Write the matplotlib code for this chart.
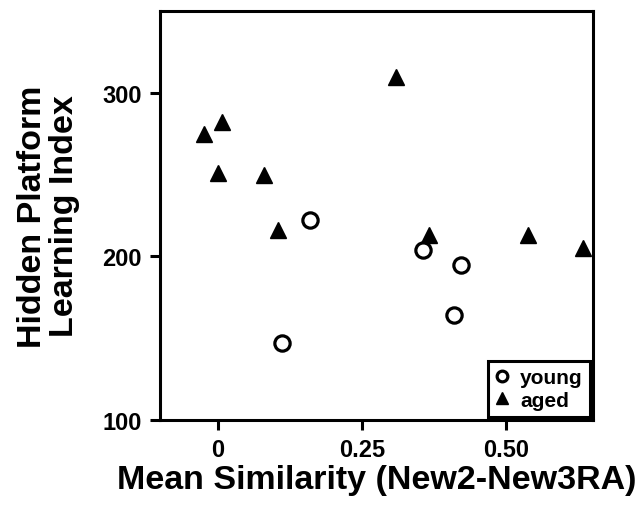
import matplotlib
matplotlib.use("Agg")
import matplotlib.pyplot as plt

plt.rcParams["font.family"] = ["Liberation Sans", "DejaVu Sans"]
plt.rcParams["font.weight"] = "bold"

# young animals
young_x = [0.160, 0.111, 0.356, 0.422, 0.409]
young_y = [222, 147, 204, 195, 164]

# aged animals
aged_x = [-0.023, 0.008, 0.000, 0.081, 0.105, 0.308, 0.366, 0.538, 0.632]
aged_y = [275, 282, 251, 250, 216, 310, 213, 213, 205]

xticks = [0, 0.25, 0.50]
xtick_labels = ["0", "0.25", "0.50"]
yticks = [100, 200, 300]

fig = plt.figure(figsize=(6.41, 5.06), dpi=100)
ax = fig.add_axes([0.2496, 0.168, 0.925 - 0.2496, 0.976 - 0.168])

ax.plot(young_x, young_y, linestyle="none", marker="o", markersize=11,
        markerfacecolor="white", markeredgecolor="black", markeredgewidth=2.3,
        label="young")
ax.plot(aged_x, aged_y, linestyle="none", marker="^", markersize=12,
        color="black", label="aged")

ax.set_xlim(-0.1, 0.65)
ax.set_ylim(100, 350)
ax.set_xticks(xticks)
ax.set_xticklabels(xtick_labels)
ax.set_yticks(yticks)

for s in ax.spines.values():
    s.set_linewidth(2.2)

ax.tick_params(direction="out", length=7, width=2.2, labelsize=17, pad=6)

ax.set_xlabel("Mean Similarity (New2-New3RA)", fontsize=24.5, fontweight="bold",
              labelpad=2)
ax.set_ylabel("Hidden Platform\nLearning Index", fontsize=24.5, fontweight="bold",
              labelpad=16, linespacing=1.05)

leg = ax.legend(loc="lower right", fontsize=15, numpoints=1, markerscale=0.7,
                handlelength=0.7, handletextpad=0.5, borderaxespad=0.15,
                labelspacing=0.15, borderpad=0.35, fancybox=False, framealpha=1)
leg.get_frame().set_edgecolor("black")
leg.get_frame().set_linewidth(2.2)

plt.savefig("out.png", dpi=100)
